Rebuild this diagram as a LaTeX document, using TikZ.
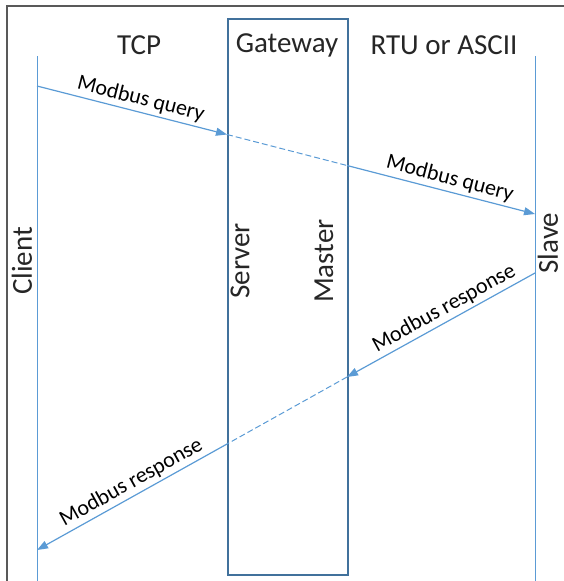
\documentclass[tikz,border=0pt]{standalone}
\usepackage{fontspec}
\setmainfont{Carlito}
\usetikzlibrary{arrows.meta, positioning, calc}

\definecolor{lanecol}{HTML}{5B9BD5}
\definecolor{boxcol}{HTML}{41719C}
\definecolor{inkcol}{HTML}{262626}

\tikzset{
	lane/.style={draw=lanecol, line width=1pt},
	gwbox/.style={draw=boxcol, line width=1.6pt, inner sep=0pt},
	msg/.style={draw=lanecol, line width=1.2pt, -{Triangle[length=11pt,width=8pt]}},
	gap/.style={draw=lanecol, line width=1pt, dash pattern=on 6pt off 3pt},
	title/.style={font=\fontsize{29}{31}\selectfont, text=inkcol, inner sep=0pt},
	side/.style={title, rotate=90},
	tag/.style={font=\fontsize{22}{24}\selectfont, text=black, sloped, above, inner sep=3pt}
}

\begin{document}
\begin{tikzpicture}[x=1pt, y=-1pt]
		\useasboundingbox (0,0) rectangle (564,581);
		\draw[draw=black!65, line width=1.6pt] (7,6) rectangle (580,600);

		% lanes and gateway
		\node[gwbox, minimum width=120pt, minimum height=556pt, anchor=north west] (gw) at (227,18) {};
		\coordinate (cl0) at (37,56);
		\coordinate (cl1) at (37,581);
		\coordinate (sl0) at (535,56);
		\coordinate (sl1) at (535,581);
		\draw[lane] (cl0) -- (cl1);
		\draw[lane] (sl0) -- (sl1);

		\node[title] (tcp) at (139,45) {TCP};
		\node[title] (gwt) at (287,45) {Gateway};
		\node[title] (rtu) at (444,45) {RTU or ASCII};

		\node[side] (client) at (22,261) {Client};
		\node[side] (server) at (240,261) {Server};
		\node[side] (master) at (324,261) {Master};
		\node[side] (slave) at (548,243) {Slave};

		% query
		\coordinate (q0) at (37,86);
		\coordinate (q1) at (227,134.5);
		\coordinate (q2) at (347,165.5);
		\coordinate (q3) at (535,214);
		% response
		\coordinate (r0) at (535,273);
		\coordinate (r1) at (347,377);
		\coordinate (r2) at (227,444);
		\coordinate (r3) at (37,550);

		\draw[msg] (q0) -- node[tag, pos=0.53]{Modbus query} (q1);
		\draw[gap] (q1) -- (q2);
		\draw[msg] (q2) -- node[tag, pos=0.53]{Modbus query} (q3);
		%
		\draw[msg] (r0) -- node[tag, pos=0.45]{Modbus response} (r1);
		\draw[gap] (r1) -- (r2);
		\draw[msg] (r2) -- node[tag, pos=0.47]{Modbus response} (r3);
	\end{tikzpicture}
\end{document}
